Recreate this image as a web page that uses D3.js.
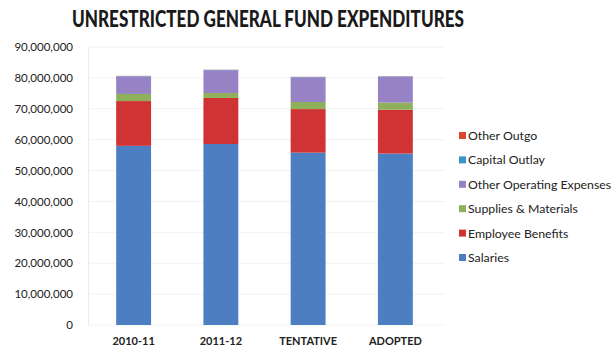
<!DOCTYPE html>
<html><head><meta charset="utf-8">
<script src="https://cdn.jsdelivr.net/npm/d3@7"></script>
<style>body{margin:0;background:#fff;}svg{display:block;font-family:Lato,"Open Sans",sans-serif;}</style>
</head><body><svg id="c" width="612" height="351"></svg>
<script>
const categories = ["2010-11", "2011-12", "TENTATIVE", "ADOPTED"];
const salaries = [58000000, 58600000, 55800000, 55500000];
const employeeBenefits = [14500000, 14900000, 14100000, 14200000];
const suppliesMaterials = [2300000, 1600000, 2300000, 2300000];
const otherOperating = [5700000, 7400000, 8000000, 8400000];
const capitalOutlay = [100000, 100000, 100000, 100000];
const otherOutgo = [50000, 50000, 50000, 50000];
const seriesNames = ["Salaries", "Employee Benefits", "Supplies & Materials", "Other Operating Expenses", "Capital Outlay", "Other Outgo"];
const seriesColors = ["#4d7ec2", "#cf3333", "#8fb05a", "#9682c4", "#3d94cc", "#d8492d"];
const yTicks = [0,10000000,20000000,30000000,40000000,50000000,60000000,70000000,80000000,90000000];

const seriesValues = [salaries, employeeBenefits, suppliesMaterials, otherOperating, capitalOutlay, otherOutgo];
const rows = categories.map((c,i)=>{const r={cat:c}; seriesNames.forEach((s,j)=>r[s]=seriesValues[j][i]); return r;});
const stack = d3.stack().keys(seriesNames)(rows);

const svg = d3.select("#c");
const x = d3.scaleBand().domain(categories).range([90, 439]).paddingInner(0.6).paddingOuter(0.3);
const y = d3.scaleLinear().domain([0, 90000000]).range([325, 47]);

svg.append("text").attr("x", 268).attr("y", 27).attr("text-anchor","middle")
  .attr("font-size", 22).attr("font-weight","900").attr("fill","#1a1a1a")
  .attr("textLength", 392).attr("lengthAdjust","spacingAndGlyphs")
  .text("UNRESTRICTED GENERAL FUND EXPENDITURES");

// gridlines
svg.append("g").selectAll("line").data(yTicks).join("line")
  .attr("x1", 88).attr("x2", 445).attr("y1", d=>y(d)).attr("y2", d=>y(d))
  .attr("stroke", "#f2f2f2").attr("stroke-width", 1);
svg.append("line").attr("x1",88.5).attr("x2",88.5).attr("y1",y(90000000)).attr("y2",y(0)).attr("stroke","#ececec");

const yAxis = svg.append("g").attr("transform","translate(73,0)")
  .call(d3.axisLeft(y).tickValues(yTicks).tickSize(0).tickPadding(0).tickFormat(d3.format(",")));
yAxis.select(".domain").remove();
yAxis.selectAll("text").attr("font-size", 11.5).attr("fill","#222").attr("font-family","Lato,sans-serif");

const xAxis = svg.append("g").attr("transform","translate(0,337)")
  .call(d3.axisBottom(x).tickSize(0).tickPadding(0));
xAxis.select(".domain").remove();
xAxis.selectAll("text").attr("font-size", 11).attr("fill","#222").attr("font-weight","bold").attr("font-family","Lato,sans-serif");

svg.append("g").selectAll("g").data(stack).join("g")
  .attr("fill", (d,i)=>seriesColors[i])
  .selectAll("rect").data(d=>d).join("rect")
  .attr("x", d=>x(d.data.cat)).attr("width", x.bandwidth())
  .attr("y", d=>y(d[1])).attr("height", d=>y(d[0])-y(d[1]));

const legendOrder = seriesNames.map((s,i)=>i).reverse();
const lg = svg.append("g");
legendOrder.forEach((si,k)=>{
  const yy = 136 + k*24.4;
  lg.append("rect").attr("x",459).attr("y",yy-4).attr("width",7).attr("height",7).attr("fill",seriesColors[si]);
  lg.append("text").attr("x",468).attr("y",yy+4).attr("font-size",12.3).attr("fill","#222").text(seriesNames[si]);
});
</script></body></html>
